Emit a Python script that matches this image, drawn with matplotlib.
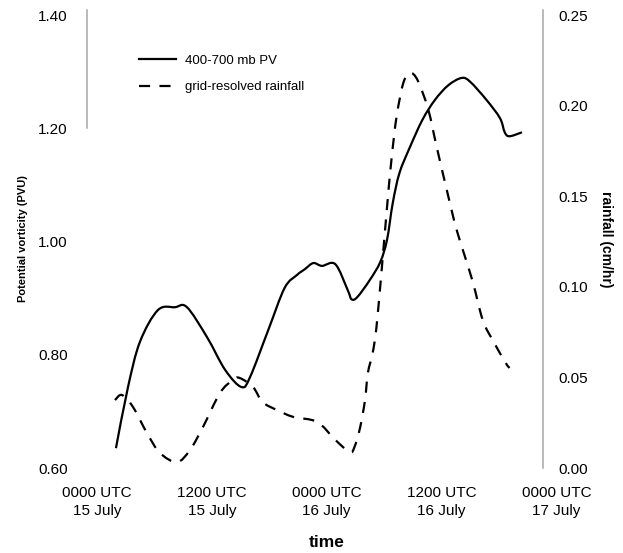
import numpy as np
import matplotlib
matplotlib.use("Agg")
import matplotlib.pyplot as plt
from matplotlib.path import Path
from matplotlib.patches import PathPatch
from matplotlib.lines import Line2D

plt.rcParams['font.family'] = ['Liberation Sans', 'DejaVu Sans']

# hours after 0000 UTC 15 July
pv_hours = [1.98, 3.24, 4.49, 6.37, 8.15, 9.40, 11.5, 13.4, 15.1, 16.0, 17.9,
            19.6, 20.9, 21.7, 22.6, 23.5, 24.9, 26.2, 26.6, 27.2, 28.5, 29.6,
            30.3, 30.9, 31.6, 32.7, 34.0, 35.3, 36.7, 38.1, 39.0, 40.7,
            42.1, 42.6, 43.1, 44.4]
pv_values = [0.635, 0.743, 0.823, 0.879, 0.884, 0.884, 0.831, 0.773, 0.743,
             0.761, 0.844, 0.918, 0.941, 0.951, 0.962, 0.957, 0.960, 0.914,
             0.898, 0.902, 0.932, 0.964, 1.003, 1.068, 1.121, 1.167,
             1.215, 1.250, 1.276, 1.289, 1.282, 1.250, 1.218, 1.193, 1.186,
             1.193]

rain_hours = [1.88, 2.61, 3.76, 5.22, 6.58, 8.36, 9.71, 11.07, 12.85, 14.2,
              14.9, 16.3, 17.3, 18.8, 20.5, 23.0, 24.9, 26.4, 26.9, 27.5,
              28.0, 28.3, 28.8, 29.2, 29.8, 30.4, 30.8, 31.3, 32.0, 32.7,
              33.5, 34.6, 35.5, 36.7, 37.6, 39.2, 40.3, 41.4, 42.7, 43.1]
rain_values = [0.0375, 0.0403, 0.0337, 0.0193, 0.0083, 0.0033, 0.0099, 0.0226,
               0.0414, 0.0486, 0.0497, 0.0447, 0.0364, 0.0320, 0.0282, 0.0254,
               0.0155, 0.0088, 0.0116, 0.0226, 0.0375, 0.0524, 0.0635, 0.0778,
               0.113, 0.150, 0.172, 0.194, 0.2125, 0.218, 0.214, 0.198, 0.177,
               0.150, 0.131, 0.1038, 0.0817, 0.070, 0.058, 0.0552]

tick_hours = [0, 12, 24, 36, 48]
tick_labels = ['0000 UTC\n15 July', '1200 UTC\n15 July', '0000 UTC\n16 July',
               '1200 UTC\n16 July', '0000 UTC\n17 July']
pv_ticks = [0.60, 0.80, 1.00, 1.20, 1.40]
rain_ticks = [0.00, 0.05, 0.10, 0.15, 0.20, 0.25]

grey = '#a6a6a6'
rain_dash = (0, (5, 4.2))


# smoothed line through the points (catmull-rom as bezier segments)
def smooth_path(x, y):
    pts = np.column_stack([x, y]).astype(float)
    n = len(pts)
    verts = [pts[0]]
    codes = [Path.MOVETO]
    for i in range(n - 1):
        p0 = pts[max(i - 1, 0)]
        p1 = pts[i]
        p2 = pts[i + 1]
        p3 = pts[min(i + 2, n - 1)]
        c1 = p1 + (p2 - p0) / 6.0
        c2 = p2 - (p3 - p1) / 6.0
        verts += [c1, c2, p2]
        codes += [Path.CURVE4] * 3
    return Path(verts, codes)


fig = plt.figure(figsize=(6.23, 5.53), dpi=100)
ax = fig.add_axes([87 / 623, 85 / 553, 479 / 623, 458 / 553])
ax2 = ax.twinx()

ax.add_patch(PathPatch(smooth_path(pv_hours, pv_values), fill=False,
                       edgecolor='black', lw=1.6, joinstyle='round',
                       capstyle='butt'))
ax2.add_patch(PathPatch(smooth_path(rain_hours, rain_values), fill=False,
                        edgecolor='black', lw=1.6, linestyle=rain_dash,
                        capstyle='butt'))

ax.set_xlim(-1.044, 49)
ax.set_ylim(0.60, 1.409)
ax2.set_ylim(0.0, 0.2528)

# axis lines: only a grey left piece and a grey right line
for s in ['top', 'bottom', 'right']:
    ax.spines[s].set_visible(False)
    ax2.spines[s].set_visible(False)
ax2.spines['left'].set_visible(False)
ax.spines['left'].set_color(grey)
ax.spines['left'].set_linewidth(1.1)
ax.spines['left'].set_bounds(1.20, 1.409)
ax2.spines['right'].set_visible(True)
ax2.spines['right'].set_color(grey)
ax2.spines['right'].set_linewidth(1.1)
ax2.spines['right'].set_position(('data', 46.58))

ax.set_xticks(tick_hours)
ax.set_xticklabels(tick_labels)
for t in ax.get_xticklabels():
    t.set_linespacing(1.35)
ax.set_yticks(pv_ticks)
ax.set_yticklabels(['%.2f' % v for v in pv_ticks])
ax2.set_yticks(rain_ticks)
ax2.set_yticklabels(['%.2f' % v for v in rain_ticks])

ax.tick_params(axis='x', length=0, pad=13, labelsize=11)
ax.tick_params(axis='y', length=0, pad=14, labelsize=11)
ax2.tick_params(axis='y', length=0, pad=11, labelsize=11)

ax.set_xlabel('time', fontsize=12.5, fontweight='bold', labelpad=12)
ax.set_ylabel('Potential vorticity (PVU)', fontsize=8, fontweight='bold',
              labelpad=7)
ax2.set_ylabel('rainfall (cm/hr)', fontsize=10, fontweight='bold',
               rotation=270, labelpad=18)

handles = [Line2D([], [], color='black', lw=1.6),
           Line2D([], [], color='black', lw=1.6, linestyle=rain_dash)]
ax.legend(handles, ['400-700 mb PV', 'grid-resolved rainfall'],
          loc='upper left', bbox_to_anchor=(0.1086, 0.903),
          frameon=False, fontsize=9.5, handlelength=2.8,
          handletextpad=0.7, labelspacing=1.1, borderpad=0,
          borderaxespad=0)

fig.savefig('out.png', dpi=100)
